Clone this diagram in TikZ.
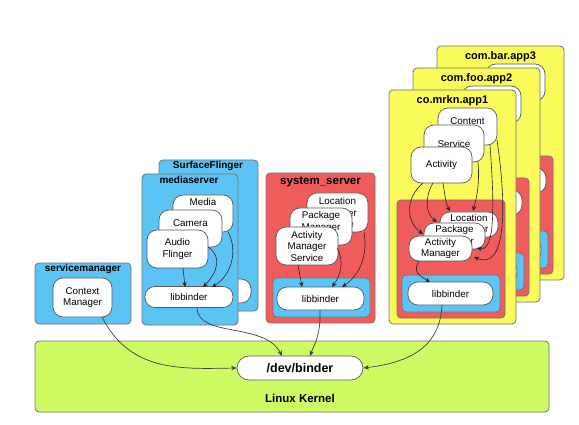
\documentclass[tikz,border=0pt]{standalone}
\usepackage{fontspec}
\setmainfont{Liberation Sans}
\usetikzlibrary{arrows.meta}
\definecolor{kgreen}{RGB}{206,250,100}
\definecolor{pblue}{RGB}{92,196,245}
\definecolor{pred}{RGB}{240,92,92}
\definecolor{pyellow}{RGB}{250,250,90}
\tikzset{
  box/.style={draw=black!55, line width=0.8pt, rounded corners=4pt, inner sep=0pt},
  svc/.style={draw=black!65, line width=0.7pt, fill=white, rounded corners=10pt, align=center, inner sep=1pt,
     font=\fontsize{9.8}{11.5}\selectfont},
  ttl/.style={font=\bfseries\fontsize{10}{12}\selectfont, inner sep=0pt},
  arr/.style={-{Stealth[length=5pt,width=4.5pt]}, line width=0.6pt, draw=black!85},
  karr/.style={-{Stealth[length=5.5pt,width=4.5pt]}, line width=0.7pt, draw=black!75}
}
\newcommand\appback[2]{%
  \node[box, fill=pyellow, minimum width=127, minimum height=234] (#1app) at (452.5,207) {};
  \node[ttl, font=\bfseries\fontsize{11}{13}\selectfont] (#1ttl) at (452.5,101) {#2};
  \node[box, fill=pred, minimum width=108, minimum height=118] (#1red) at (451,259) {};
  \node[box, fill=pblue, minimum width=98, minimum height=37] (#1blue) at (451,293.5) {};
  \node[svc, minimum width=85, minimum height=23] (#1lib) at (450.5,293.5) {};
  \node[svc, minimum width=58, minimum height=25] (#1lms) at (469,224.5) {};
  \node[svc, minimum width=59, minimum height=37] (#1cp) at (467.5,126.5) {};
}
\begin{document}
\begin{tikzpicture}[x=1pt,y=-1pt]
\useasboundingbox (0,0) rectangle (579,425);

% Linux kernel
\node[box, fill=kgreen, minimum width=514, minimum height=71] (kernel) at (292,376.5) {};
\node[svc, font=\bfseries\fontsize{12.5}{14}\selectfont, rounded corners=12pt, minimum width=126, minimum height=24] (dev) at (300,368) {/dev/binder};
\node[ttl, font=\bfseries\fontsize{11.5}{13}\selectfont] (klabel) at (300,398) {Linux Kernel};

% servicemanager
\node[box, fill=pblue, minimum width=96, minimum height=61] (smbox) at (83,293.5) {};
\node[ttl] (smttl) at (83,269) {servicemanager};
\node[svc, minimum width=59, minimum height=39] (cm) at (82.5,297.5) {Context\\Manager};

% SurfaceFlinger
\node[box, fill=pblue, minimum width=99, minimum height=151] (sfbox) at (208.5,235.5) {};
\node[ttl] (sfttl) at (208,166) {SurfaceFlinger};
\node[svc, minimum width=89, minimum height=24] (sflib) at (206.5,291) {};

% mediaserver
\node[box, fill=pblue, minimum width=96, minimum height=151] (msbox) at (190,249.5) {};
\node[ttl] (msttl) at (189,180) {mediaserver};
\node[svc, minimum width=60, minimum height=37] (media) at (203,213.5) {Media\\\mbox{}\\\mbox{}};
\node[svc, minimum width=63, minimum height=37] (camera) at (190.5,228.5) {Camera\\\mbox{}};
\node[svc, minimum width=61, minimum height=38] (audio) at (177.5,249) {Audio\\Flinger};
\node[svc, minimum width=88, minimum height=21] (mslib) at (189,297) {libbinder};
\draw[arr] (183,268) -- (185,287);
\draw[arr] (208,247) .. controls (222,256) and (218,272) .. (203,287);
\draw[arr] (228,232) .. controls (238,250) and (232,275) .. (212,287);

% system_server
\node[box, fill=pred, minimum width=109, minimum height=150] (ssbox) at (320.5,248) {};
\node[ttl, font=\bfseries\fontsize{11.5}{13}\selectfont] (ssttl) at (320.5,182) {system\_server};
\node[box, fill=pblue, minimum width=97, minimum height=39] (ssblue) at (321.5,297.5) {};
\node[svc, minimum width=87, minimum height=23] (sslib) at (320.5,298.5) {libbinder};
\node[svc, minimum width=61, minimum height=39] (lms) at (337.5,212.5) {Location\\Manager\\Service};
\node[svc, minimum width=62, minimum height=37] (pms) at (321,226.5) {Package\\Manager\\\mbox{}};
\node[svc, minimum width=62, minimum height=38] (ams) at (307,246) {Activity\\Manager\\Service};
\draw[arr] (298,265) -- (302,287);
\draw[arr] (337,248) .. controls (345,262) and (340,276) .. (332,287);
\draw[arr] (364,232) .. controls (368,255) and (360,275) .. (342,287);

% apps (back to front)
\begin{scope}[shift={(48,-44)}]
\appback{cc}{com.bar.app3}
\end{scope}
\begin{scope}[shift={(24,-22)}]
\appback{bb}{com.foo.app2}
\end{scope}

\node[box, fill=pyellow, minimum width=127, minimum height=234] (app) at (452.5,207) {};
\node[ttl, font=\bfseries\fontsize{11}{13}\selectfont] (appttl) at (452.5,101) {co.mrkn.app1};
\node[svc, minimum width=59, minimum height=37] (cp) at (467.5,126.5) {Content\\\mbox{}};
\node[svc, minimum width=60, minimum height=37] (srv) at (454,143.5) {Service};
\node[svc, minimum width=61, minimum height=36] (act) at (441.5,165) {Activity};
\node[box, fill=pred, minimum width=108, minimum height=118] (ared) at (451,259) {};
\node[box, fill=pblue, minimum width=98, minimum height=37] (ablue) at (451,293.5) {};
\node[svc, minimum width=85, minimum height=23] (alib) at (450.5,293.5) {libbinder};
\node[svc, minimum width=58, minimum height=25] (alms) at (469,224.5) {Location\\Manager};
\node[svc, minimum width=61, minimum height=26] (apms) at (454.5,236) {Package\\Manager};
\node[svc, minimum width=63, minimum height=25] (aams) at (440.5,248.5) {Activity\\Manager};
\draw[arr] (423,183) .. controls (405,198) and (406,222) .. (423,234);
\draw[arr] (433,183) .. controls (424,198) and (426,214) .. (437,222);
\draw[arr] (443,183) .. controls (445,196) and (446,204) .. (450,211);
\draw[arr] (478,162) .. controls (480,185) and (476,200) .. (473,211);
\draw[arr] (490,145) .. controls (494,200) and (496,252) .. (477,248);
\draw[arr] (497,140) .. controls (506,200) and (508,272) .. (474,257);
\draw[arr] (419,261) .. controls (412,272) and (420,276) .. (430,282);

% connections to /dev/binder
\draw[karr] (102,317) .. controls (130,372) and (180,369) .. (dev.west);
\draw[karr] (197,308) .. controls (198,338) and (265,322) .. (282,356);
\draw[karr] (320,310) .. controls (321,335) and (314,345) .. (310,356);
\draw[karr] (442,305) .. controls (440,350) and (405,363) .. (dev.east);
\end{tikzpicture}
\end{document}
